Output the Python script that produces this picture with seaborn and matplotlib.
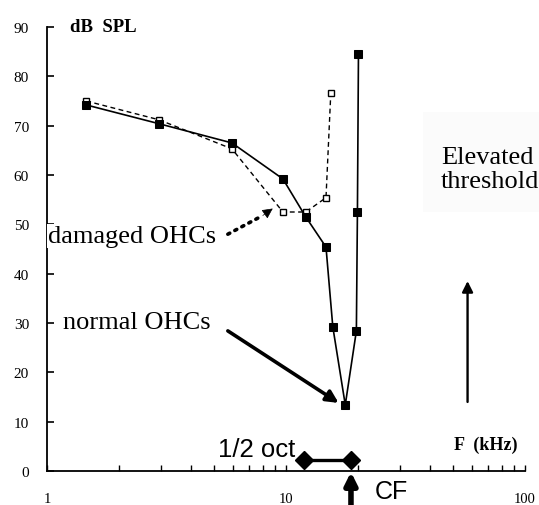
import numpy as np
import pandas as pd
import matplotlib
matplotlib.use("Agg")
import matplotlib.pyplot as plt
import matplotlib.ticker as mticker
from matplotlib.patches import Rectangle
import seaborn as sns

# ---- data ----
normal_f = [1.46, 2.94, 5.94, 9.71, 12.1, 14.7, 15.7, 17.7, 19.7, 19.9, 20.1]
normal_db = [74.2, 70.4, 66.5, 59.2, 51.5, 45.4, 29.2, 13.4, 28.4, 52.5, 84.6]
damaged_f = [1.46, 2.94, 5.94, 9.71, 12.1, 14.7, 15.4]
damaged_db = [75.0, 71.2, 65.3, 52.5, 52.5, 55.4, 76.7]
yticks = [0, 10, 20, 30, 40, 50, 60, 70, 80, 90]
xticks = [1, 10, 100]
xticklabels = ["1", "10", "100"]

sns.set_style("ticks")
plt.rcParams["font.family"] = ["Liberation Serif", "DejaVu Serif"]
plt.rcParams.update({"text.color": "black", "axes.edgecolor": "black",
                     "xtick.color": "black", "ytick.color": "black",
                     "axes.labelcolor": "black"})

fig = plt.figure(figsize=(5.39, 5.06), dpi=100)
ax = fig.add_axes([47 / 539, 34 / 506, 478 / 539, 444 / 506])

# faint box behind "Elevated threshold"
ax.add_patch(Rectangle((423 / 539, 1 - 213 / 506), 116 / 539, 100 / 506,
                       transform=fig.transFigure, facecolor="#fbfbfb",
                       edgecolor="none", zorder=0.5, clip_on=False))

dn = pd.DataFrame({"f": normal_f, "db": normal_db})
dd = pd.DataFrame({"f": damaged_f, "db": damaged_db})

sns.lineplot(data=dd, x="f", y="db", ax=ax, sort=False, estimator=None,
             color="black", lw=1.0, linestyle=(0, (3.5, 2.5)), marker="s",
             markersize=5, markerfacecolor="white", markeredgecolor="black",
             markeredgewidth=1.0, zorder=4)
sns.lineplot(data=dn, x="f", y="db", ax=ax, sort=False, estimator=None,
             color="black", lw=1.2, marker="s", markersize=5.5,
             markerfacecolor="black", markeredgecolor="black", zorder=5)

ax.set_xscale("log")
ax.set_xlim(1, 100)
ax.set_ylim(0, 90)
ax.set_xlabel("")
ax.set_ylabel("")
ax.xaxis.set_major_locator(mticker.FixedLocator(xticks))
ax.xaxis.set_major_formatter(mticker.FixedFormatter(xticklabels))
ax.xaxis.set_minor_locator(mticker.LogLocator(base=10, subs=np.arange(2, 10)))
ax.xaxis.set_minor_formatter(mticker.NullFormatter())
ax.set_yticks(yticks)
ax.tick_params(axis="x", which="both", direction="in", length=4, width=1,
               pad=15, labelsize=10.5)
ax.tick_params(axis="y", direction="in", length=5, width=1.2, pad=13,
               labelsize=11)
sns.despine(ax=ax)
for s in ("left", "bottom"):
    ax.spines[s].set_linewidth(1.3)

# axis titles
ax.text(1.25, 90, "dB  SPL", fontsize=13.5, fontweight="bold", va="center",
        ha="left")
ax.text(50.5, 5.5, "F  (kHz)", fontsize=13, fontweight="bold", va="center",
        ha="left")

# annotations
ax.text(1.01, 46.4, "damaged OHCs", fontsize=19, ha="left", va="baseline",
        bbox=dict(facecolor="white", edgecolor="none", pad=0.5), zorder=3)
ax.plot([5.71, 8.0], [48.0, 51.8], color="black", lw=2.6,
        linestyle=(0, (0.6, 1.6)), dash_capstyle="round")
ax.annotate("", xy=(8.8, 53.2), xytext=(8.0, 51.8),
            arrowprops=dict(arrowstyle="-|>", lw=0.5, color="black",
                            mutation_scale=16, shrinkA=0, shrinkB=0))
ax.text(1.167, 29.0, "normal OHCs", fontsize=19, ha="left", va="baseline")
ax.annotate("", xy=(16.6, 13.8), xytext=(5.71, 28.4),
            arrowprops=dict(arrowstyle="-|>", lw=2.6, color="black",
                            mutation_scale=18, shrinkA=0, shrinkB=0))

ax.text(44.5, 62.5, "Elevated", fontsize=19, ha="left", va="baseline",
        zorder=6)
ax.text(44.5, 57.6, "threshold", fontsize=19, ha="left", va="baseline",
        zorder=6, clip_on=False)
ax.annotate("", xy=(57.5, 38.5), xytext=(57.5, 14.0),
            arrowprops=dict(arrowstyle="-|>", lw=1.7, color="black",
                            mutation_scale=16, shrinkA=0, shrinkB=0))

# 1/2 octave bar and CF marker
ax.text(5.19, 3.0, "1/2 oct", fontsize=18.5, ha="left", va="baseline",
        family=["Liberation Sans", "DejaVu Sans"], clip_on=False)
ax.plot([11.9, 18.7], [2.2, 2.2], color="black", lw=2.4, marker="D",
        markersize=9, clip_on=False, zorder=6)
ax.annotate("", xy=(18.7, -0.2), xytext=(18.7, -8),
            arrowprops=dict(arrowstyle="-|>", lw=4, color="black",
                            mutation_scale=18, shrinkA=0, shrinkB=0),
            annotation_clip=False)
ax.text(23.5, -5.4, "CF", fontsize=18, ha="left", va="baseline",
        family=["Liberation Sans", "DejaVu Sans"], clip_on=False)

fig.savefig("out.png", dpi=100)
